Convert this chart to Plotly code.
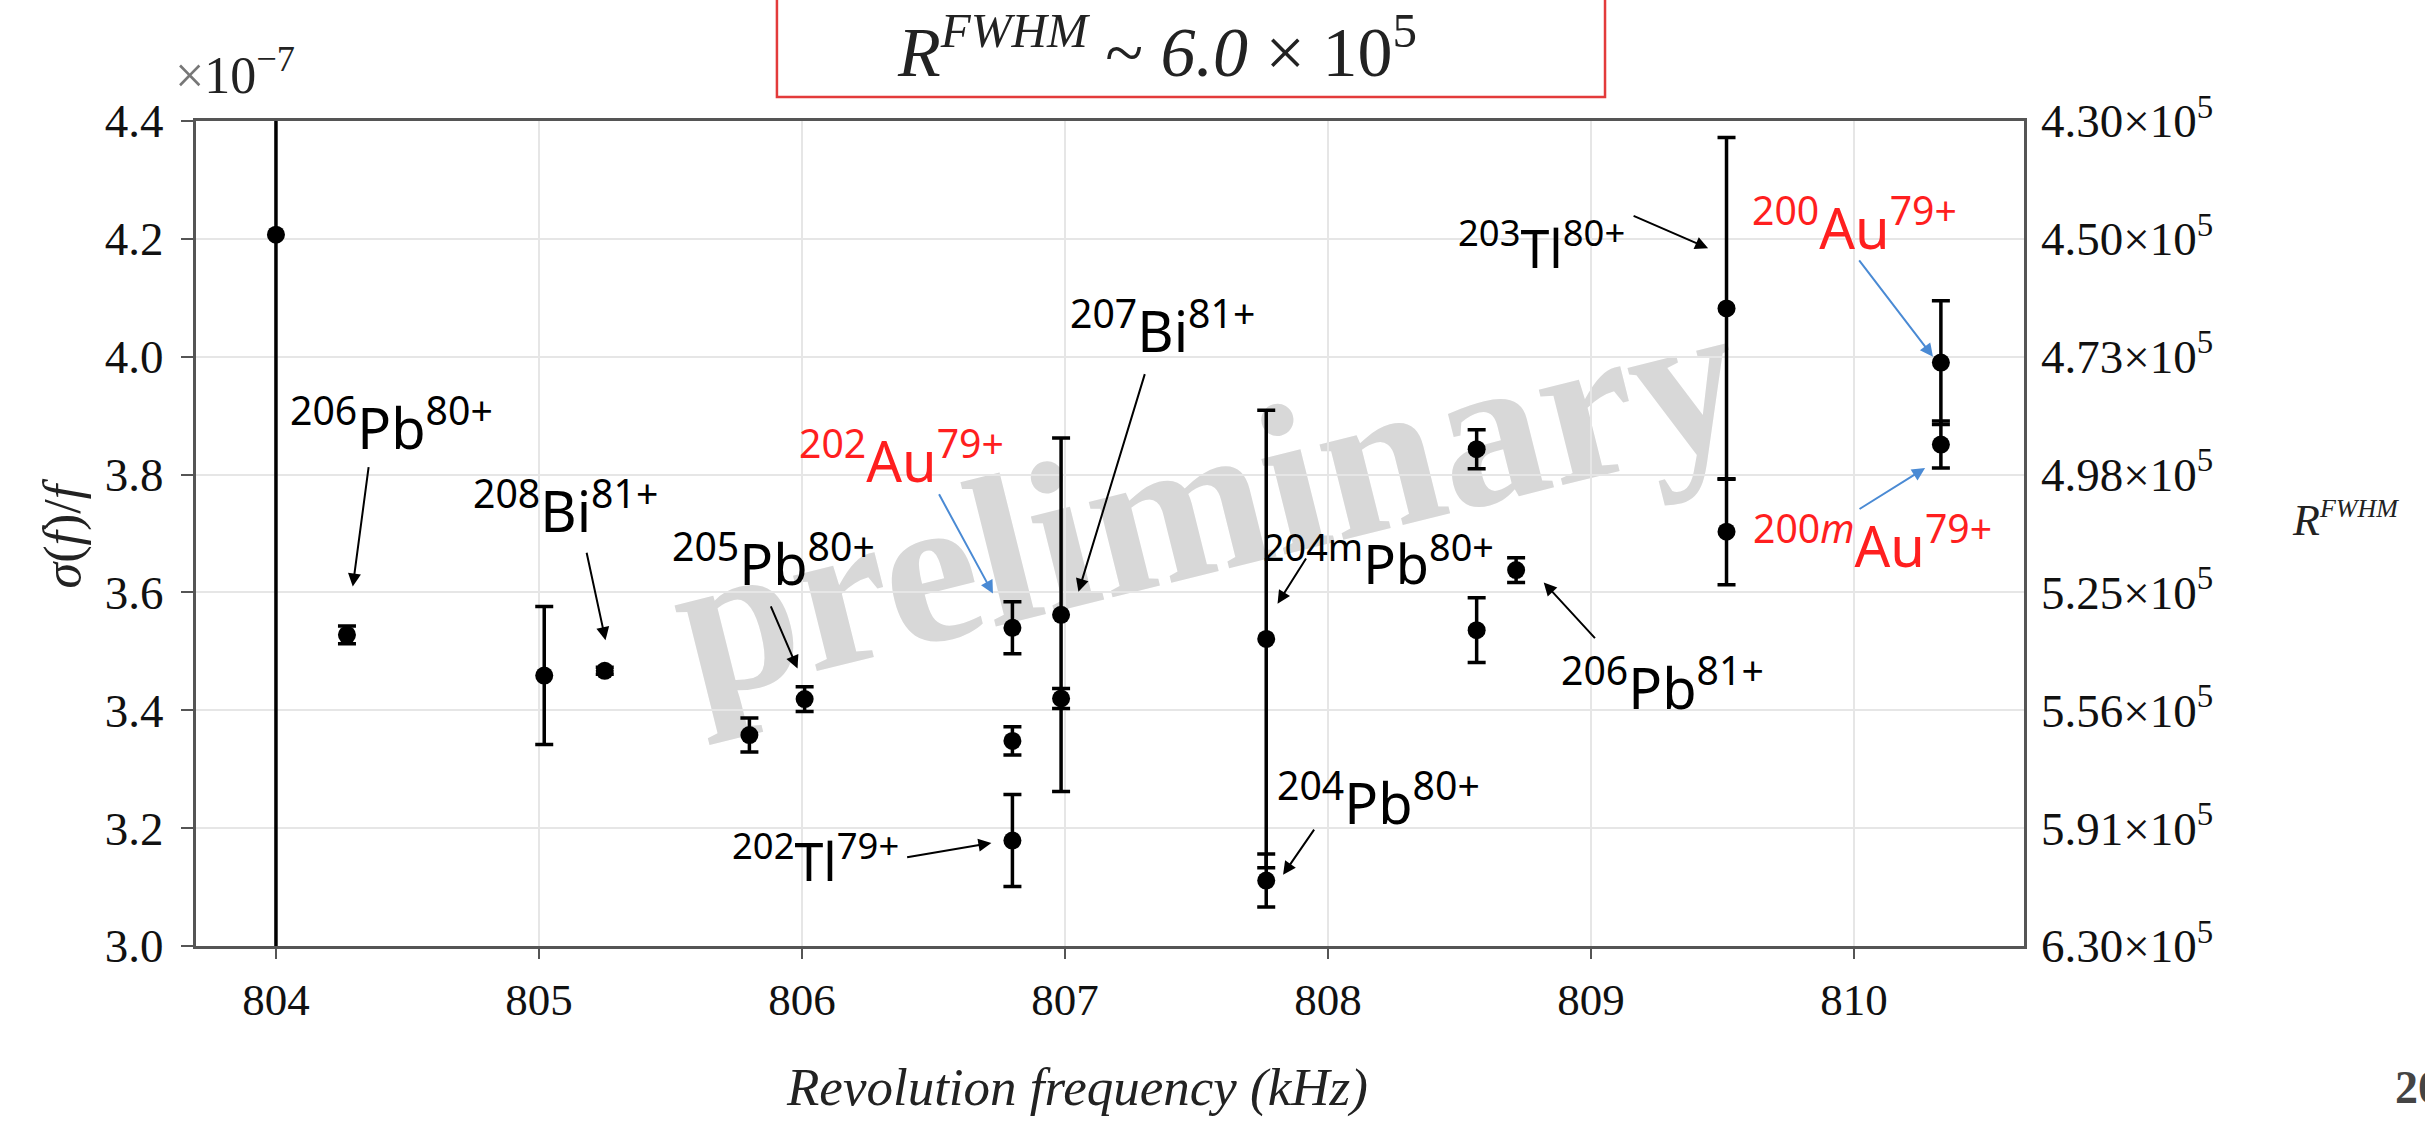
import plotly.graph_objects as go

# ---------------- data ----------------
freq_khz = [804.00, 804.27, 805.02, 805.25, 805.80, 806.01, 806.80, 806.80, 806.80,
            806.985, 806.985, 807.765, 807.765, 808.565, 808.565, 808.715,
            809.515, 809.515, 810.33, 810.33]
sigma_rel = [4.207, 3.528, 3.459, 3.467, 3.358, 3.419, 3.540, 3.348, 3.179,
             3.562, 3.420, 3.521, 3.111, 3.843, 3.536, 3.638,
             4.082, 3.703, 3.990, 3.851]
sigma_err = [1.30, 0.015, 0.117, 0.006, 0.029, 0.021, 0.044, 0.024, 0.078,
             0.300, 0.017, 0.388, 0.045, 0.033, 0.055, 0.021,
             0.290, 0.090, 0.105, 0.040]

x_ticks = [804, 805, 806, 807, 808, 809, 810]
y_ticks = [3.0, 3.2, 3.4, 3.6, 3.8, 4.0, 4.2, 4.4]
y_ticktext = ["3.0", "3.2", "3.4", "3.6", "3.8", "4.0", "4.2", "4.4"]
r_ticktext = ["6.30", "5.91", "5.56", "5.25", "4.98", "4.73", "4.50", "4.30"]

# ion labels: (text, x, y, colour, font size)
ion_labels = [
    ("<sup>206</sup>Pb<sup>80+</sup>", 804.44, 3.885, "black", 56),
    ("<sup>208</sup>Bi<sup>81+</sup>", 805.10, 3.745, "black", 56),
    ("<sup>205</sup>Pb<sup>80+</sup>", 805.89, 3.655, "black", 56),
    ("<sup>202</sup>Au<sup>79+</sup>", 806.38, 3.830, "#ff1f1f", 56),
    ("<sup>207</sup>Bi<sup>81+</sup>", 807.37, 4.050, "black", 56),
    ("<sup>204m</sup>Pb<sup>80+</sup>", 808.19, 3.655, "black", 54),
    ("<sup>202</sup>Tl<sup>79+</sup>", 806.05, 3.150, "black", 52),
    ("<sup>204</sup>Pb<sup>80+</sup>", 808.19, 3.250, "black", 56),
    ("<sup>206</sup>Pb<sup>81+</sup>", 809.27, 3.445, "black", 56),
    ("<sup>203</sup>Tl<sup>80+</sup>", 808.81, 4.190, "black", 52),
    ("<sup>200</sup>Au<sup>79+</sup>", 810.00, 4.225, "#ff1f1f", 56),
    ("<sup>200<i>m</i></sup>Au<sup>79+</sup>", 810.07, 3.685, "#ff1f1f", 56),
]

# arrows: (tail x, tail y, head x, head y, colour)
arrows = [
    (804.353, 3.815, 804.292, 3.610, "black"),
    (805.180, 3.670, 805.253, 3.519, "black"),
    (805.879, 3.579, 805.983, 3.471, "black"),
    (806.518, 3.769, 806.726, 3.598, "#4a8ad4"),
    (807.305, 3.973, 807.051, 3.601, "black"),
    (807.920, 3.660, 807.808, 3.581, "black"),
    (806.394, 3.150, 806.720, 3.175, "black"),
    (807.951, 3.200, 807.829, 3.121, "black"),
    (809.020, 3.520, 808.820, 3.617, "black"),
    (809.156, 4.240, 809.445, 4.184, "black"),
    (810.015, 4.166, 810.300, 4.000, "#4a8ad4"),
    (810.015, 3.740, 810.270, 3.811, "#4a8ad4"),
]

SERIF = "Liberation Serif"
SANS = "Noto Sans"

fig = go.Figure()

fig.add_trace(go.Scatter(
    x=freq_khz, y=sigma_rel, mode="markers",
    marker=dict(color="black", size=18),
    error_y=dict(type="data", array=sigma_err, visible=True,
                 color="black", thickness=3.5, width=9),
    showlegend=False, hoverinfo="x+y",
))

# invisible trace to carry the right-hand axis
fig.add_trace(go.Scatter(
    x=[freq_khz[1]], y=[sigma_rel[1]], yaxis="y2", mode="markers",
    marker=dict(opacity=0), showlegend=False, hoverinfo="skip",
))

annotations = []
for text, x, y, col, fs in ion_labels:
    annotations.append(dict(x=x, y=y, xref="x", yref="y", text=text, showarrow=False,
                            xanchor="center", yanchor="middle",
                            font=dict(family=SANS, size=fs, color=col)))
for tx, ty, hx, hy, col in arrows:
    annotations.append(dict(x=hx, y=hy, ax=tx, ay=ty, xref="x", yref="y",
                            axref="x", ayref="y", text="", showarrow=True,
                            arrowhead=2, arrowsize=1.3, arrowwidth=2,
                            arrowcolor=col, standoff=0, startstandoff=0))

# texts outside plot area
outer = [
    ("<i>R</i><sup><i>FWHM</i></sup> ~ <i>6.0</i> × 10<sup>5</sup>", 0.5256, 1.090, 70, 0, "#222", "center"),
    ("<span style='color:#777'>×</span>10<sup>−7</sup>", 0.0215, 1.060, 52, 0, "#222", "center"),
    ("<i>σ</i>(<i>f</i>)/<i>f</i>", -0.0733, 0.5, 52, -90, "#222", "center"),
    ("<i>Revolution frequency (kHz)</i>", 0.482, -0.172, 53, 0, "#222", "center"),
    ("<i>R</i><sup><i><span style='font-size:26px'>FWHM</span></i></sup>", 1.1760, 0.5164, 44, 0, "#222", "center"),
    ("<b>2025</b>", 1.2019, -0.172, 46, 0, "#444", "left"),
]
for text, x, y, fs, ang, col, xa in outer:
    annotations.append(dict(x=x, y=y, xref="paper", yref="paper", showarrow=False,
                            text=text, textangle=ang, xanchor=xa, yanchor="middle",
                            font=dict(family=SERIF, size=fs, color=col)))

shapes = [
    dict(type="rect", xref="paper", yref="paper", x0=0.3178, x1=0.7708,
         y0=1.0291, y1=1.17, line=dict(color="#e33b3b", width=2.5),
         fillcolor="rgba(0,0,0,0)"),
    dict(type="rect", xref="paper", yref="paper", x0=0.50, x1=0.60,
         y0=0.518, y1=0.618, line=dict(width=0), fillcolor="rgba(0,0,0,0)",
         layer="below",
         label=dict(text="<b>preliminary</b>", textangle=-14,
                    textposition="middle center",
                    font=dict(family=SERIF, size=214, color="#d8d8d8"))),
]

axis_font = dict(family=SERIF, size=47, color="#111")
xaxis_font = dict(family=SERIF, size=45, color="#111")

fig.update_layout(
    width=2425, height=1121, autosize=False,
    margin=dict(l=196, r=401, t=121, b=175),
    paper_bgcolor="white", plot_bgcolor="white",
    annotations=annotations, shapes=shapes,
    xaxis=dict(range=[803.696, 810.646], tickvals=x_ticks,
               ticktext=[str(v) for v in x_ticks], tickfont=xaxis_font,
               showgrid=True, gridcolor="#e6e6e6", gridwidth=2,
               showline=True, linecolor="#555", linewidth=3, mirror=True,
               ticks="outside", ticklen=10, tickwidth=2, tickcolor="#555",
               ticklabelstandoff=2, zeroline=False),
    yaxis=dict(range=[3.0, 4.4], tickvals=y_ticks, ticktext=y_ticktext,
               tickfont=axis_font,
               showgrid=True, gridcolor="#e6e6e6", gridwidth=2,
               showline=True, linecolor="#555", linewidth=3, mirror=True,
               ticks="outside", ticklen=12, tickwidth=2, tickcolor="#555",
               ticklabelstandoff=8, zeroline=False),
    yaxis2=dict(range=[3.0, 4.4], overlaying="y", side="right",
                tickvals=y_ticks,
                ticktext=[t + "×10<sup>5</sup>" for t in r_ticktext],
                tickfont=axis_font, showgrid=False, showline=False,
                ticks="", ticklabelstandoff=16, zeroline=False),
)

fig.write_html("out.html")
